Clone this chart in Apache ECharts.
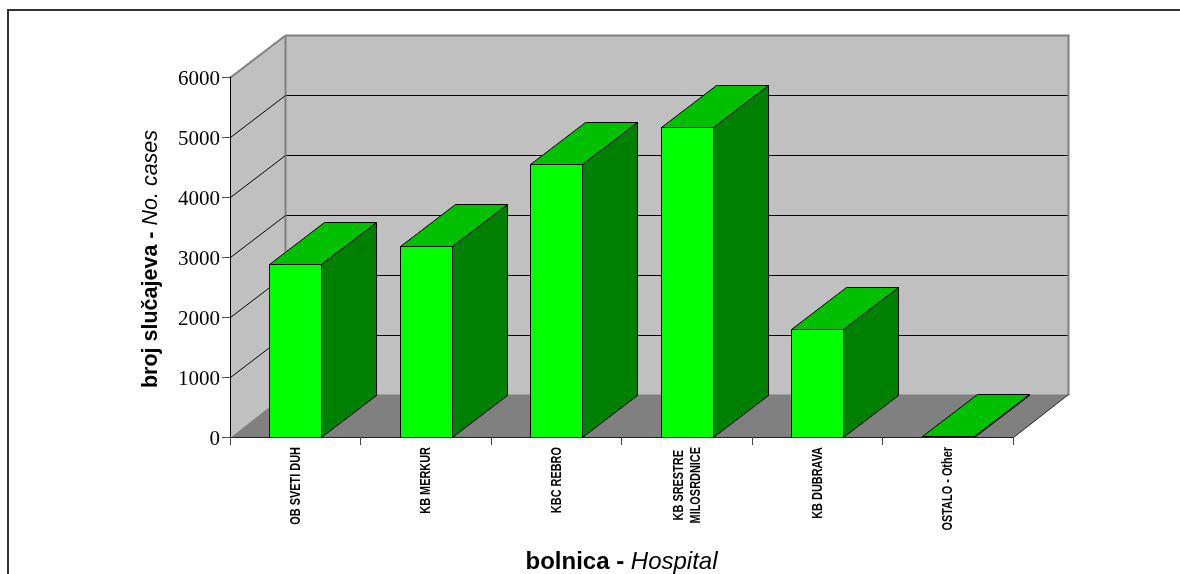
<!DOCTYPE html>
<html><head><meta charset="utf-8">
<style>html,body{margin:0;padding:0;background:#fff}#c{width:1180px;height:574px}</style>
<script src="https://cdn.jsdelivr.net/npm/echarts@6/dist/echarts.min.js"></script>
</head><body><div id="c"></div>
<script>
const categories = ['OB SVETI DUH','KB MERKUR','KBC REBRO','KB SRESTRE\nMILOSRDNICE','KB DUBRAVA','OSTALO - Other'];
const cases = [2880,3187,4545,5160,1806,10];
const gridValues = [1000,2000,3000,4000,5000];
const DX = 55, DY = 42, BAR = 52;
const LABEL_FONT = 'bold 14px "Liberation Sans"', LABEL_SQUEEZE = 0.78, LABEL_TOP = 447, LABEL_LEADING = 17;
const chart = echarts.init(document.getElementById('c'), null, {renderer:'canvas'});
const s = v => Math.round(v)+0.5;
const poly = (pts, fill, stroke, lw) => ({type:'polygon', shape:{points:pts}, style:{fill, stroke:stroke||null, lineWidth:lw||0}});
const line = (a,b,stroke,lw) => ({type:'line', shape:{x1:a[0],y1:a[1],x2:b[0],y2:b[1]}, style:{stroke, lineWidth:lw||1}});
const base = {type:'custom', silent:true, clip:false, animation:false};
const measure = document.createElement('canvas').getContext('2d');
measure.font = LABEL_FONT;
chart.setOption({
  animation:false,
  backgroundColor:'#ffffff',
  grid:{left:230,top:77,width:783,height:360,containLabel:false,outerBoundsMode:'none'},
  graphic:[
    {type:'line', silent:true, z:1, shape:{x1:8,y1:10,x2:1180,y2:10}, style:{stroke:'#333333',lineWidth:2}},
    {type:'line', silent:true, z:1, shape:{x1:8,y1:9,x2:8,y2:574}, style:{stroke:'#333333',lineWidth:2}}
  ],
  xAxis:{type:'category', data:categories, boundaryGap:true, z:5,
    name:'{b|bolnica - }{i|Hospital}', nameLocation:'middle', nameGap:113,
    nameTextStyle:{rich:{b:{fontFamily:'Liberation Sans',fontWeight:'bold',fontSize:24,color:'#000'},i:{fontFamily:'Liberation Sans',fontStyle:'italic',fontSize:24,color:'#000'}}},
    axisLine:{show:true,lineStyle:{color:'#222222',width:1}},
    axisTick:{show:true,alignWithLabel:false,length:8,lineStyle:{color:'#444444'}},
    axisLabel:{show:false},
    splitLine:{show:false}},
  yAxis:{type:'value', min:0,max:6000,interval:1000, z:5,
    name:'{b|broj slučajeva - }{i|No. cases}', nameLocation:'middle', nameRotate:90, nameGap:68,
    nameTextStyle:{padding:[0,4,0,0],rich:{b:{fontFamily:'Liberation Sans',fontWeight:'bold',fontSize:21.5,color:'#000'},i:{fontFamily:'Liberation Sans',fontStyle:'italic',fontSize:21.5,color:'#000'}}},
    axisLine:{show:true,lineStyle:{color:'#000000',width:1}},
    axisTick:{show:true,length:8,lineStyle:{color:'#555555'}},
    axisLabel:{margin:10,fontFamily:'Liberation Serif',fontSize:21,color:'#000',formatter:v=>String(v),verticalAlign:'top',lineHeight:4},
    splitLine:{show:false}},
  series:[
    Object.assign({}, base, {z:2, data:[[0,0]], renderItem:(p,api)=>{
      const band = api.size([1,0])[0];
      const x0 = s(api.coord([0,0])[0]-band/2), x1 = s(api.coord([categories.length-1,0])[0]+band/2);
      const y0 = s(api.coord([0,0])[1]), yT = s(api.coord([0,6000])[1]);
      return {type:'group', children:[
        poly([[x0,yT],[x0+DX,yT-DY],[x0+DX,y0-DY],[x0,y0]],'#c0c0c0'),
        poly([[x0+DX,yT-DY],[x1+DX,yT-DY],[x1+DX,y0-DY],[x0+DX,y0-DY]],'#c0c0c0'),
        poly([[x0,y0],[x0+DX,y0-DY-1],[x1+DX,y0-DY-1],[x1,y0]],'#808080'),
        line([x0,yT],[x0+DX,yT-DY],'#808080',2),
        line([x0+DX,yT-DY],[x1+DX+1,yT-DY],'#808080',2),
        line([x0+DX,yT-DY],[x0+DX,y0-DY],'#808080',2),
        line([x1+DX,yT-DY],[x1+DX,y0-DY],'#808080',2),
        line([x1,y0],[x1+DX,y0-DY-1],'#222222',1)
      ]};
    }}),
    Object.assign({}, base, {z:3, data:gridValues.map(v=>[0,v]), renderItem:(p,api)=>{
      const band = api.size([1,0])[0];
      const c = api.coord([0,api.value(1)]);
      const x0 = s(c[0]-band/2), x1 = s(api.coord([categories.length-1,0])[0]+band/2), y = s(c[1]);
      return {type:'group', children:[
        line([x0,y],[x0+DX,y-DY],'#000000',1),
        line([x0+DX+1,y-DY],[x1+DX-1,y-DY],'#000000',1)
      ]};
    }}),
    Object.assign({}, base, {z:4, data:cases.map((v,i)=>[i,v]), renderItem:(p,api)=>{
      const top = api.coord([api.value(0),api.value(1)]);
      const bot = api.coord([api.value(0),0]);
      const l = s(top[0]-BAR/2), r = l+BAR, t = s(top[1]), b = s(bot[1]);
      return {type:'group', children:[
        poly([[r,b],[r+DX,b-DY],[r+DX,t-DY],[r,t]],'#008000','#000000',1),
        poly([[l,t],[l+DX,t-DY],[r+DX,t-DY],[r,t]],'#00c000','#000000',1),
        poly([[l,t],[r,t],[r,b],[l,b]],'#00ff00','#000000',1)
      ]};
    }}),
    Object.assign({}, base, {z:6, data:categories.map((c,i)=>[i,0]), renderItem:(p,api)=>{
      const i = api.value(0);
      const cx = api.coord([i,0])[0] + 0.5;
      const lines = categories[i].split('\n');
      const maxW = Math.max(...lines.map(t=>measure.measureText(t).width))*LABEL_SQUEEZE;
      const cy = LABEL_TOP + maxW/2;
      return {type:'group', children:lines.map((t,k)=>({
        type:'text', x:cx+(k-(lines.length-1)/2)*LABEL_LEADING, y:cy,
        rotation:Math.PI/2, scaleX:LABEL_SQUEEZE, scaleY:1,
        style:{text:t, font:LABEL_FONT, fill:'#000', align:'center', verticalAlign:'middle'}
      }))};
    }})
  ]
});
</script></body></html>
